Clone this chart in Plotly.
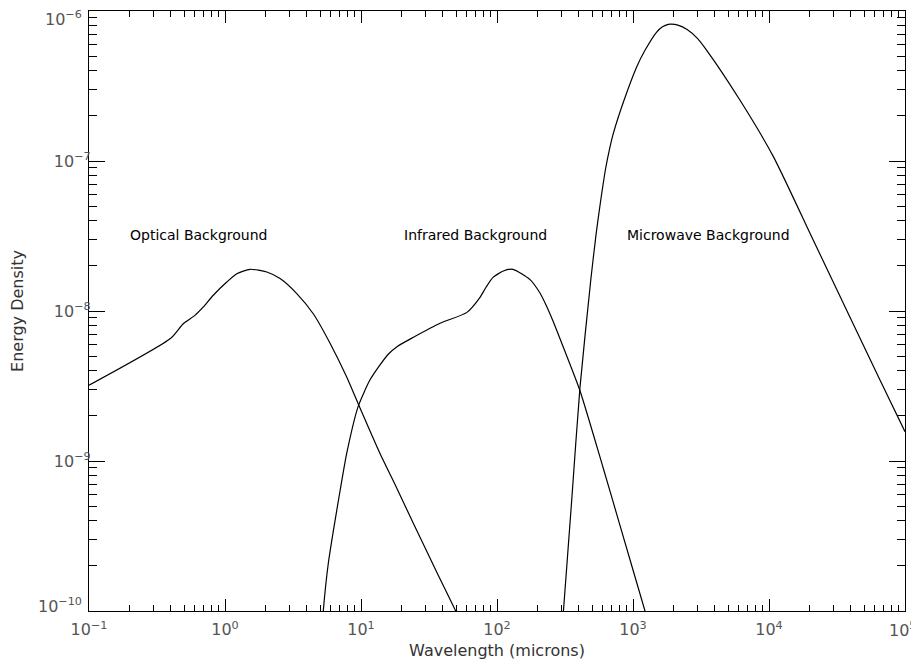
import math
import plotly.graph_objects as go

# Optical background (wavelength in microns, energy density)
opt_wl = [0.10, 0.399, 0.493, 0.601, 0.693, 0.820, 1.03, 1.22, 1.53, 2.03, 2.54, 3.37,
          4.47, 5.92, 7.85, 9.55, 13.8, 18.3, 24.1, 36.0, 49.7, 56.2]
opt_ed = [3.20e-9, 6.58e-9, 8.22e-9, 9.35e-9, 1.064e-8, 1.274e-8, 1.56e-8, 1.774e-8,
          1.897e-8, 1.82e-8, 1.644e-8, 1.306e-8, 9.55e-9, 6.10e-9, 3.63e-9, 2.40e-9,
          1.122e-9, 6.61e-10, 3.89e-10, 1.82e-10, 1.0e-10, 7.9e-11]

# Infrared background
ir_wl = [5.19, 5.28, 5.75, 6.27, 7.01, 7.85, 9.55, 11.6, 13.8, 15.8, 18.6, 24.3, 38.1,
         60.1, 75.0, 83.2, 93.5, 111.4, 131, 175, 207, 232, 259, 307, 407, 603, 802,
         1225, 1290]
ir_ed = [7.9e-11, 1.0e-10, 2.08e-10, 3.45e-10, 6.31e-10, 1.125e-9, 2.32e-9, 3.45e-9,
         4.37e-9, 5.13e-9, 5.82e-9, 6.68e-9, 8.28e-9, 9.79e-9, 1.233e-8, 1.445e-8,
         1.675e-8, 1.849e-8, 1.897e-8, 1.62e-8, 1.318e-8, 1.072e-8, 8.51e-9, 5.75e-9,
         2.95e-9, 9.02e-10, 3.72e-10, 1.0e-10, 8.5e-11]

# Microwave background
mw_wl = [302, 308, 355, 407, 489, 535, 578, 632, 676, 716, 859, 1064, 1225, 1493, 1648,
         1820, 1905, 2138, 2500, 2951, 3483, 6124, 10770, 21180, 37240, 65460, 100000]
mw_ed = [7.9e-11, 1.0e-10, 5.62e-10, 3.05e-9, 1.603e-8, 3.24e-8, 5.41e-8, 9.12e-8,
         1.23e-7, 1.524e-7, 2.54e-7, 4.24e-7, 5.47e-7, 7.24e-7, 7.85e-7, 8.15e-7,
         8.17e-7, 8.05e-7, 7.53e-7, 6.62e-7, 5.47e-7, 2.54e-7, 1.069e-7, 2.96e-8,
         1.012e-8, 3.47e-9, 1.567e-9]

labels = ["Optical Background", "Infrared Background", "Microwave Background"]
label_x = [0.64, 69, 3560]
label_y = [3.2e-8, 3.2e-8, 3.2e-8]

x_tickvals = [0.1, 1, 10, 100, 1000, 10000, 100000]
x_ticktext = ["10<sup>−1</sup>", "10<sup>0</sup>", "10<sup>1</sup>", "10<sup>2</sup>",
              "10<sup>3</sup>", "10<sup>4</sup>", "10<sup>5</sup>"]
y_tickvals = [1e-10, 1e-9, 1e-8, 1e-7, 1e-6]
y_ticktext = ["10<sup>−10</sup>", "10<sup>−9</sup>", "10<sup>−8</sup>",
              "10<sup>−7</sup>", "10<sup>−6</sup>"]

tickfont = dict(family="DejaVu Sans", size=16, color="#555")
titlefont = dict(family="DejaVu Sans", size=16, color="#333")

line = dict(color="black", width=1.2)
fig = go.Figure()
for wl, ed in [(opt_wl, opt_ed), (ir_wl, ir_ed), (mw_wl, mw_ed)]:
    fig.add_trace(go.Scatter(x=wl, y=ed, mode="lines", line=line, showlegend=False,
                             line_shape="spline", line_smoothing=0.6))

for t, lx, ly in zip(labels, label_x, label_y):
    fig.add_annotation(x=math.log10(lx), y=math.log10(ly), text=t, showarrow=False,
                       font=dict(family="DejaVu Sans", size=14, color="black"),
                       xanchor="center", yanchor="middle")

# end labels of the y axis sit just inside the axis range, as in the original
y_axis_text = list(y_ticktext)
for i, shift in [(0, 6), (len(y_tickvals) - 1, -7)]:
    y_axis_text[i] = ""
    fig.add_annotation(xref="paper", x=0, xanchor="right", xshift=-5,
                       yref="y", y=math.log10(y_tickvals[i]), yanchor="middle",
                       yshift=shift, text=y_ticktext[i], showarrow=False,
                       font=tickfont)

# last x label kept inside the page edge
x_axis_text = list(x_ticktext)
x_axis_text[-1] = ""
fig.add_annotation(xref="x", x=math.log10(x_tickvals[-1]), xanchor="right", xshift=13,
                   yref="paper", y=0, yanchor="top", yshift=-6,
                   text=x_ticktext[-1], showarrow=False, font=tickfont)

fig.update_xaxes(type="log", range=[-1, 5], tickmode="array", tickvals=x_tickvals,
                 ticktext=x_axis_text, ticks="inside", ticklen=12, tickwidth=1,
                 tickcolor="black", showline=True, linecolor="black", linewidth=1.3,
                 mirror="ticks", showgrid=False, zeroline=False, tickfont=tickfont,
                 automargin=False, ticklabeloverflow="allow", ticklabelstandoff=4,
                 minor=dict(ticks="inside", ticklen=6, tickwidth=1, tickcolor="black",
                            dtick="D1", showgrid=False),
                 title=dict(text="Wavelength (microns)", standoff=6, font=titlefont))
fig.update_yaxes(type="log", range=[-10, -6], tickmode="array", tickvals=y_tickvals,
                 ticktext=y_axis_text, ticks="inside", ticklen=16, tickwidth=1,
                 tickcolor="black", showline=True, linecolor="black", linewidth=1.3,
                 mirror="ticks", showgrid=False, zeroline=False, tickfont=tickfont,
                 automargin=False, ticklabeloverflow="allow", ticklabelstandoff=-6,
                 minor=dict(ticks="inside", ticklen=8, tickwidth=1, tickcolor="black",
                            dtick="D1", showgrid=False),
                 title=dict(text="Energy Density", standoff=26, font=titlefont))
fig.update_layout(width=911, height=658, margin=dict(l=81, r=14, t=3, b=55),
                  paper_bgcolor="white", plot_bgcolor="white")
fig.write_html("out.html")
